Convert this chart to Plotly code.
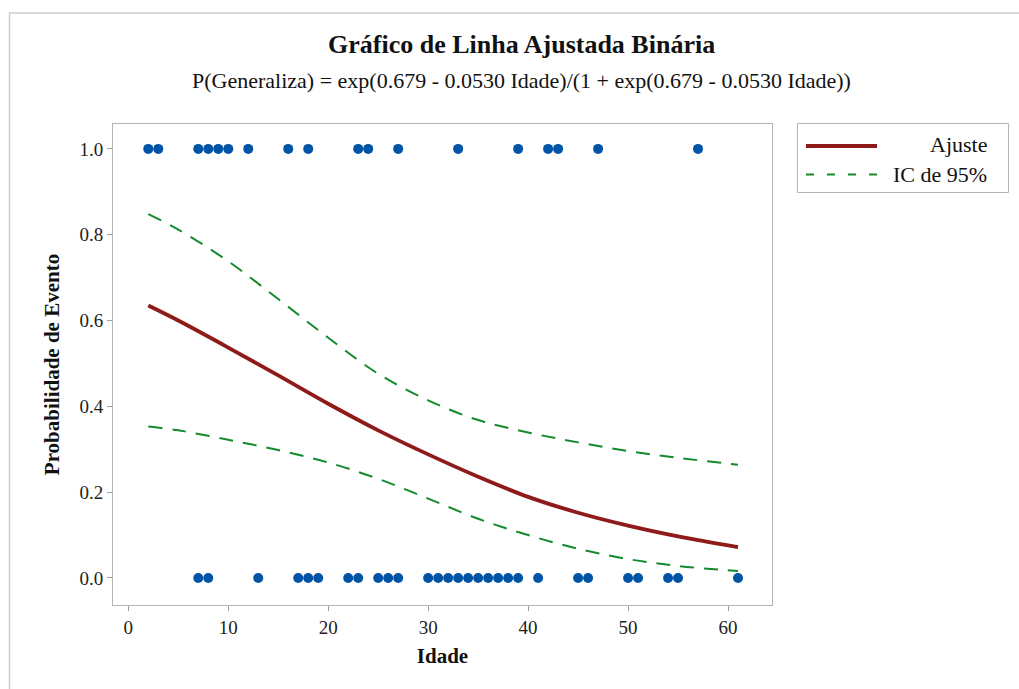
import plotly.graph_objects as go

# ---- data ----
idade_evento = [2, 3, 7, 8, 9, 10, 12, 16, 18, 23, 24, 27, 33, 39, 42, 43, 47, 57]
idade_nao_evento = [7, 8, 13, 17, 18, 19, 22, 23, 25, 26, 27, 30, 31, 32, 33, 34, 35,
                    36, 37, 38, 39, 41, 45, 46, 50, 51, 54, 55, 61]

curve_x = [2, 5, 10, 15, 20, 25, 30, 35, 40, 45, 50, 55, 61]
ajuste = [0.635, 0.600, 0.537, 0.472, 0.406, 0.344, 0.288, 0.236, 0.189, 0.152, 0.122, 0.097, 0.072]
ic_sup = [0.848, 0.812, 0.738, 0.650, 0.560, 0.476, 0.414, 0.368, 0.339, 0.316, 0.296, 0.280, 0.264]
ic_inf = [0.353, 0.344, 0.322, 0.298, 0.269, 0.231, 0.185, 0.138, 0.100, 0.068, 0.044, 0.028, 0.016]

x_ticks = [0, 10, 20, 30, 40, 50, 60]
y_ticks = [0.0, 0.2, 0.4, 0.6, 0.8, 1.0]

title_text = "Gráfico de Linha Ajustada Binária"
subtitle_text = "P(Generaliza) = exp(0.679 - 0.0530 Idade)/(1 + exp(0.679 - 0.0530 Idade))"
x_label = "Idade"
y_label = "Probabilidade de Evento"
legend_labels = ["Ajuste", "IC de 95%"]

# ---- styles ----
SERIF = "Liberation Serif"
RED = "#8E1A1A"
GREEN = "#138A2C"
BLUE = "#0054A6"
W, H = 1019, 689
L, R, T, B = 113, 247, 124, 84
PW, PH = W - L - R, H - T - B


def px(xp):
    return (xp - L) / PW


def py(yp):
    return (H - B - yp) / PH


fig = go.Figure()

fig.add_trace(go.Scatter(x=curve_x, y=ic_sup, mode="lines", showlegend=False,
                         line=dict(color=GREEN, width=2, dash="14px,10px", shape="spline")))
fig.add_trace(go.Scatter(x=curve_x, y=ic_inf, mode="lines", showlegend=False,
                         line=dict(color=GREEN, width=2, dash="14px,10px", shape="spline")))
fig.add_trace(go.Scatter(x=curve_x, y=ajuste, mode="lines", showlegend=False,
                         line=dict(color=RED, width=3.8, shape="spline")))
fig.add_trace(go.Scatter(x=idade_evento, y=[1.0] * len(idade_evento), mode="markers",
                         showlegend=False, marker=dict(color=BLUE, size=10, line=dict(width=0))))
fig.add_trace(go.Scatter(x=idade_nao_evento, y=[0.0] * len(idade_nao_evento), mode="markers",
                         showlegend=False, marker=dict(color=BLUE, size=10, line=dict(width=0))))

axis_common = dict(showline=True, linecolor="#B4B4B4", linewidth=1, mirror=True,
                   showgrid=False, zeroline=False, ticks="outside", ticklen=5,
                   tickcolor="#A0A0A0", tickfont=dict(family=SERIF, size=19, color="#222222"))

fig.update_xaxes(range=[-1.53, 64.4], tickvals=x_ticks, ticktext=[str(v) for v in x_ticks],
                 title=dict(text="<b>%s</b>" % x_label, font=dict(family=SERIF, size=21, color="#111111"),
                            standoff=11),
                 **axis_common)
fig.update_yaxes(range=[-0.063, 1.058], tickvals=y_ticks, ticktext=["%.1f" % v for v in y_ticks],
                 title=dict(text="<b>%s</b>" % y_label, font=dict(family=SERIF, size=21, color="#111111"),
                            standoff=14),
                 **axis_common)

shapes = [
    # outer window frame
    dict(type="path", xref="paper", yref="paper", path="M %f,%f L %f,%f L %f,%f" % (
        px(9.5), py(H + 5), px(9.5), py(13), px(W + 5), py(13)),
        line=dict(color="#CCCCCC", width=1.5)),
    # legend box
    dict(type="rect", xref="paper", yref="paper", x0=px(797.5), x1=px(1008.5), y0=py(123.5), y1=py(192.5),
         line=dict(color="#B4B4B4", width=1), fillcolor="white"),
    dict(type="line", xref="paper", yref="paper", x0=px(806), x1=px(877), y0=py(146), y1=py(146),
         line=dict(color=RED, width=3.8)),
    dict(type="line", xref="paper", yref="paper", x0=px(806), x1=px(877), y0=py(174.5), y1=py(174.5),
         line=dict(color=GREEN, width=2, dash="8px,13px")),
]

annotations = [
    dict(text="<b>%s</b>" % title_text, xref="paper", yref="paper", x=px(521), y=py(45),
         showarrow=False, font=dict(family=SERIF, size=26, color="#111111"), xanchor="center", yanchor="middle"),
    dict(text=subtitle_text, xref="paper", yref="paper", x=px(521), y=py(81),
         showarrow=False, font=dict(family=SERIF, size=22, color="#111111"), xanchor="center", yanchor="middle"),
    dict(text=legend_labels[0], xref="paper", yref="paper", x=px(989), y=py(145),
         showarrow=False, font=dict(family=SERIF, size=22, color="#111111"), xanchor="right", yanchor="middle"),
    dict(text=legend_labels[1], xref="paper", yref="paper", x=px(989), y=py(174),
         showarrow=False, font=dict(family=SERIF, size=22, color="#111111"), xanchor="right", yanchor="middle"),
]

fig.update_layout(width=W, height=H, margin=dict(l=L, r=R, t=T, b=B),
                  paper_bgcolor="white", plot_bgcolor="white",
                  shapes=shapes, annotations=annotations, showlegend=False)

fig.write_html("out.html")
